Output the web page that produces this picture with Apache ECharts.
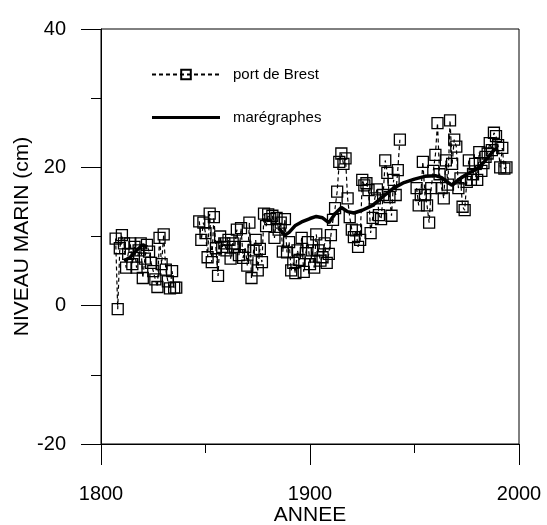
<!DOCTYPE html>
<html>
<head>
<meta charset="utf-8">
<script src="https://cdn.jsdelivr.net/npm/echarts@6/dist/echarts.min.js"></script>
<style>
  html, body { margin: 0; padding: 0; background: #fff; }
  #chart { width: 547px; height: 525px; }
</style>
</head>
<body>
<div id="chart"></div>
<script>
// port de Brest : une valeur par an depuis 1807 (null = pas de mesure)
const brestStart = 1807;
const brestLevels = [
  9.7, -0.5, 8.3, 10.2, 9.0, 5.5, 7.5, 9.0, 6.0, 8.5,
  5.5, 8.0, 9.0, 4.0, 6.8, 8.8, 7.8, 6.2, 5.0, 3.8,
  2.7, 9.8, 6.0, 10.3, 5.2, 3.5, 2.5, 5.0, 2.6, 2.6,
  null, null, null, null, null, null, null, null, null, null,
  12.2, 9.5, 12.0, 10.5, 7.0, 13.3, 6.3, 12.8, 8.3, 4.3,
  10.0, 8.5, 9.0, 8.0, 9.5, 6.8, 9.0, 8.5, 11.0, 7.3,
  11.2, 6.9, 8.5, 5.8, 12.0, 4.0, 8.0, 9.5, 5.1, 8.2,
  6.3, 13.3, 11.5, 13.2, 12.5, 13.0, 9.8, 12.7, 11.0, 12.0,
  7.8, 12.5, 7.7, 9.2, 5.1, 6.2, 4.7, 8.0, 6.6, 9.8,
  4.9, 7.6, 9.2, 6.0, 8.0, 5.5, 10.3, 8.0, 6.5, 7.0,
  9.0, 6.2, 7.5, 10.2, 12.4, 14.1, 16.5, 20.8, 22.0, 20.5,
  21.3, 15.5, 12.8, 11.0, 9.9, 10.9, 8.5, 9.5, 18.2, 17.4,
  17.7, 16.7, 10.5, 12.7, 15.5, 16.8, 13.1, 12.5, 16.0, 21.0,
  19.2, 15.7, 13.0, 18.2, 16.0, 19.6, 24.0,
  null, null, null, null, null, null, null,
  17.0, 14.5, 16.0, 20.8, 16.0, 14.5, 12.0, 17.0, 19.5, 21.8,
  26.4, 19.0, 17.0, 15.5, 21.0, 17.5, 26.8, 20.5, 24.0, 23.0,
  17.0, 18.4, 14.3, 13.8, 17.9, 21.0, 18.2, 19.0, 20.5, 18.2,
  22.2, 19.5, 20.6, 21.5, 22.0, 23.5, 22.5, 25.0, 24.5, 23.2,
  20.0, 22.8, 19.8, 20.0
];

// marégraphes (courbe moyenne)
const maregYears = [1811, 1814, 1817, 1820, 1822, 1850,
  1885, 1888, 1890, 1893, 1896, 1900, 1903, 1906, 1909, 1912, 1915, 1918,
  1921, 1925, 1930, 1935, 1940, 1945, 1950, 1955, 1960, 1963, 1966, 1968,
  1971, 1975, 1980, 1984, 1988, 1990];
const maregLevels = [6.5, 7.0, 8.0, 8.8, 8.5, null,
  11.2, 10.2, 10.6, 11.6, 12.1, 12.6, 12.9, 12.7, 12.0, 13.3, 14.2, 13.6,
  13.4, 13.8, 14.5, 15.8, 17.0, 17.8, 18.3, 18.7, 18.8, 18.5, 17.8, 17.4,
  18.2, 19.0, 19.8, 21.0, 22.5, 22.8];

const yTicks = ["-20", "0", "20", "40"];
const xTicks = ["1800", "1900", "2000"];

const brestData = brestLevels.map((v, i) => [brestStart + i, v]);
const maregData = maregYears.map((y, i) => [y, maregLevels[i]]);

const font = "Liberation Sans, Arial, sans-serif";
// trait plein pour la légende (les petits points fixent la hauteur de la boîte)
const thickLineIcon = "path://M0,0L0.01,0L0.01,0.01ZM0,4.5L68,4.5L68,7.5L0,7.5ZM0,12L0.01,12L0.01,11.99Z";
const myChart = echarts.init(document.getElementById("chart"));

myChart.setOption({
  animation: false,
  backgroundColor: "#fff",
  textStyle: { fontFamily: font, color: "#000" },
  grid: {
    left: 101, right: 28, top: 29, bottom: 81,
    containLabel: false,
    outerBoundsMode: "none",
    show: true, borderColor: "#000", borderWidth: 1
  },
  legend: {
    orient: "vertical",
    left: 146,
    top: 62,
    itemWidth: 68,
    itemHeight: 12,
    itemGap: 28,
    textStyle: { fontFamily: font, fontSize: 15, color: "#000", padding: [0, 0, 0, 8] },
    data: [
      { name: "port de Brest" },
      { name: "marégraphes", icon: thickLineIcon, itemStyle: { color: "#000" } }
    ]
  },
  xAxis: {
    type: "value",
    min: 1800, max: 2000, interval: 100,
    name: "ANNEE",
    nameLocation: "middle",
    nameGap: 61,
    nameMoveOverlap: false,
    nameTextStyle: { fontFamily: font, fontSize: 21, color: "#000" },
    axisLine: { onZero: false, lineStyle: { color: "#000", width: 1 } },
    axisTick: { inside: false, length: 21, lineStyle: { color: "#000" } },
    minorTick: { show: true, splitNumber: 2, length: 9, lineStyle: { color: "#000" } },
    splitLine: { show: false },
    axisLabel: {
      margin: 40, fontSize: 20, color: "#000", fontFamily: font,
      formatter: v => xTicks.includes(String(v)) ? String(v) : ""
    }
  },
  yAxis: {
    type: "value",
    min: -20, max: 40, interval: 20,
    name: "NIVEAU MARIN (cm)",
    nameLocation: "middle",
    nameGap: 68,
    nameMoveOverlap: false,
    nameTextStyle: { fontFamily: font, fontSize: 21, color: "#000" },
    axisLine: { show: true, onZero: false, lineStyle: { color: "#000", width: 1 } },
    axisTick: { show: true, inside: false, length: 20, lineStyle: { color: "#000" } },
    minorTick: { show: true, splitNumber: 2, length: 10, lineStyle: { color: "#000" } },
    splitLine: { show: false },
    axisLabel: {
      margin: 35, fontSize: 20, color: "#000", fontFamily: font,
      formatter: v => yTicks.includes(String(v)) ? String(v) : ""
    }
  },
  series: [
    {
      name: "port de Brest",
      type: "line",
      data: brestData,
      connectNulls: false,
      symbol: "rect",
      symbolSize: 11,
      itemStyle: { color: "rgba(255,255,255,0)", borderColor: "#000", borderWidth: 1.3 },
      lineStyle: { color: "#000", width: 1.2, type: [4, 3] },
      z: 2
    },
    {
      name: "marégraphes",
      type: "line",
      data: maregData,
      connectNulls: false,
      symbol: "none",
      itemStyle: { color: "#000" },
      lineStyle: { color: "#000", width: 3.5 },
      z: 3
    }
  ]
});
</script>
</body>
</html>
